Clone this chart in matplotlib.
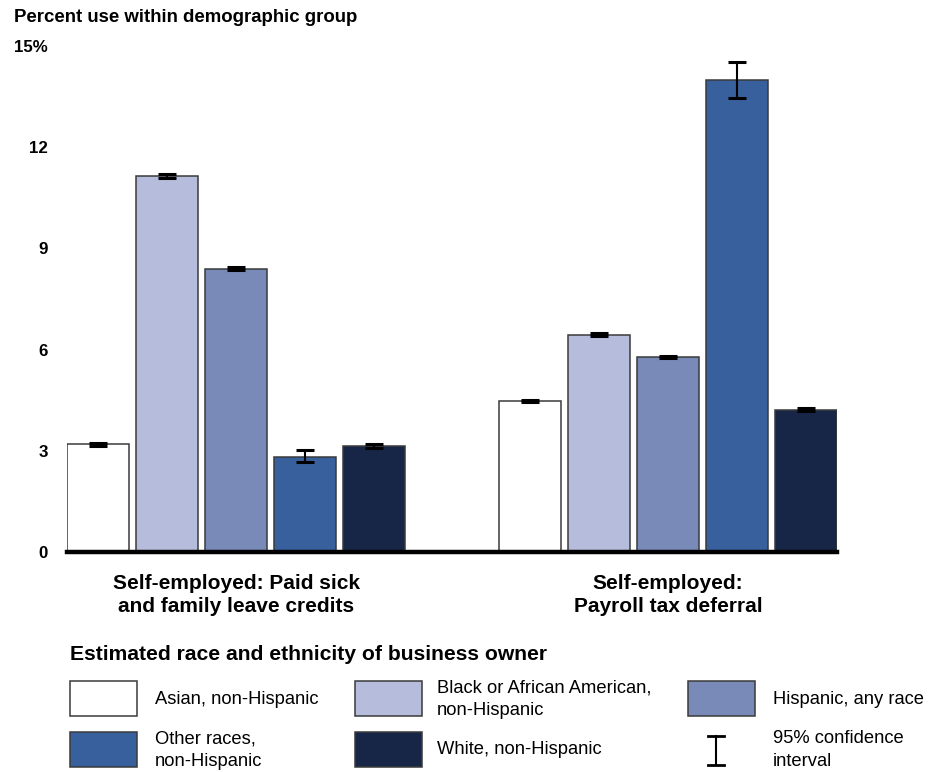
import matplotlib
matplotlib.use("Agg")
import matplotlib.pyplot as plt
from matplotlib.patches import Rectangle
import numpy as np

plt.rcParams['font.family'] = ['Liberation Sans', 'DejaVu Sans']

groups = ["Self-employed: Paid sick\nand family leave credits",
          "Self-employed:\nPayroll tax deferral"]
races = ["Asian, non-Hispanic", "Black or African American,\nnon-Hispanic",
         "Hispanic, any race", "Other races,\nnon-Hispanic", "White, non-Hispanic"]
colors = ["#FFFFFF", "#B6BCDB", "#7A8AB8", "#37609C", "#172647"]

# values [group][race]
values = [[3.19, 11.16, 8.40, 2.83, 3.14],
          [4.48, 6.44, 5.78, 13.99, 4.22]]
ci_low = [[3.15, 11.10, 8.36, 2.68, 3.08],
          [4.44, 6.40, 5.74, 13.45, 4.18]]
ci_high = [[3.23, 11.22, 8.44, 3.03, 3.20],
           [4.52, 6.48, 5.82, 14.52, 4.26]]

yticks = [0, 3, 6, 9, 12, 15]
ytick_labels = ["0", "3", "6", "9", "12", "15%"]

W, H = 944, 772
fig = plt.figure(figsize=(W / 100, H / 100), dpi=100)
ax = fig.add_axes([67 / W, 1 - 552 / H, (837 - 67) / W, (552 - 46) / H])

group_centers = [0.0, 6.26]
bar_w = 0.9
for g, gc in enumerate(group_centers):
    for i in range(5):
        x = gc + (i - 2)
        v = values[g][i]
        ax.bar(x, v, width=bar_w, color=colors[i], edgecolor="#3a3a3a",
               linewidth=1.1, zorder=2)
        ax.errorbar(x, v, yerr=[[v - ci_low[g][i]], [ci_high[g][i] - v]],
                    fmt="none", ecolor="black", elinewidth=1.5, capsize=6.2,
                    capthick=2.2, zorder=3)

ax.set_xlim(-2.45, group_centers[1] + 2.45)
ax.set_ylim(0, 15)
for s in ["top", "right", "left"]:
    ax.spines[s].set_visible(False)
ax.spines["bottom"].set_linewidth(3.2)
ax.spines["bottom"].set_color("black")
ax.spines["bottom"].set_zorder(4)
ax.set_yticks(yticks)
ax.set_yticklabels(ytick_labels, fontsize=12.2, fontweight="bold")
ax.tick_params(axis="y", length=0, pad=13.8)
ax.set_xticks(group_centers)
ax.set_xticklabels(groups, fontsize=15, fontweight="bold", linespacing=1.3)
ax.tick_params(axis="x", length=0, pad=15.5)

fig.text(14 / W, 1 - 18 / H, "Percent use within demographic group",
         fontsize=13.4, fontweight="bold", ha="left", va="center")

# Legend drawn in pixel coordinates
lg = fig.add_axes([0, 0, 1, 1])
lg.set_xlim(0, W)
lg.set_ylim(H, 0)
lg.axis("off")
lg.patch.set_alpha(0)
lg.text(70, 655, "Estimated race and ethnicity of business owner",
        fontsize=15.2, fontweight="bold", ha="left", va="center")

swatch_x = [70, 355, 688]
text_x = [155, 437, 773]
row_y = [681, 732]
sw_w, sw_h = 67, 35
for k in range(5):
    r, c = divmod(k, 3)
    lg.add_patch(Rectangle((swatch_x[c], row_y[r]), sw_w, sw_h,
                           facecolor=colors[k], edgecolor="#3a3a3a", linewidth=1.1))
    lg.text(text_x[c], row_y[r] + sw_h / 2 + 0.5, races[k], fontsize=13.2,
            ha="left", va="center", linespacing=1.42)

# confidence interval key
cx = 716
lg.plot([cx, cx], [736, 765], color="black", linewidth=1.5)
lg.plot([cx - 8, cx + 8], [736, 736], color="black", linewidth=2.0)
lg.plot([cx - 8, cx + 8], [765, 765], color="black", linewidth=2.0)
lg.text(text_x[2], row_y[1] + sw_h / 2 + 0.5, "95% confidence\ninterval", fontsize=13.2,
        ha="left", va="center", linespacing=1.42)

fig.savefig("out.png", dpi=100)
